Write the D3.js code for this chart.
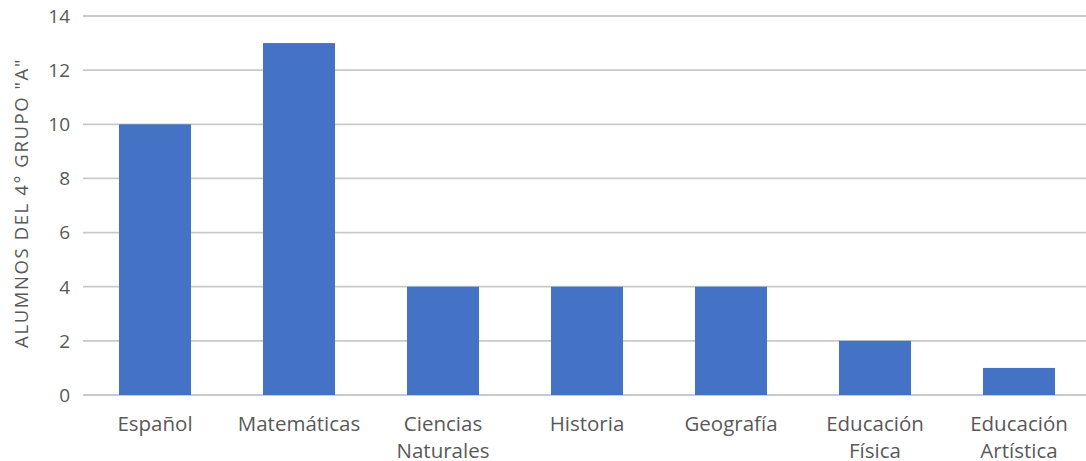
<!DOCTYPE html>
<html><head><meta charset="utf-8">
<script src="https://cdn.jsdelivr.net/npm/d3@7"></script>
<style>body{margin:0;background:#fff}svg{display:block}</style>
</head><body><svg id="c" width="1086" height="461"></svg>
<script>
const categories = [["Español"],["Matemáticas"],["Ciencias","Naturales"],["Historia"],["Geografía"],["Educación","Física"],["Educación","Artística"]];
const values = [10,13,4,4,4,2,1];
const yTicks = [0,2,4,6,8,10,12,14];
const yTitle = "ALUMNOS DEL 4° GRUPO \"A\"";

const svg = d3.select("#c");
const font = "'Open Sans', 'Noto Sans', sans-serif";
const x = d3.scaleBand().domain(d3.range(categories.length)).range([83,1091]).paddingInner(0.5).paddingOuter(0.25);
const y = d3.scaleLinear().domain([0,14]).range([395,16]);

svg.append("g").selectAll("line").data(yTicks).join("line")
  .attr("x1",83).attr("x2",1086)
  .attr("y1",d=>y(d)).attr("y2",d=>y(d))
  .attr("stroke","#c9c9c9").attr("stroke-width",1.8);

svg.append("g").selectAll("rect").data(values).join("rect")
  .attr("x",(d,i)=>x(i)).attr("width",x.bandwidth())
  .attr("y",d=>y(d)).attr("height",d=>y(0)-y(d))
  .attr("fill","#4472C4");

svg.append("g").selectAll("text").data(yTicks).join("text")
  .attr("x",70).attr("y",d=>y(d)).attr("dy","0.36em")
  .attr("text-anchor","end").attr("font-family",font).attr("font-size",19)
  .attr("fill","#595959").text(d=>d);

const xl = svg.append("g").selectAll("text").data(categories).join("text")
  .attr("x",(d,i)=>x(i)+x.bandwidth()/2).attr("y",431)
  .attr("text-anchor","middle").attr("font-family",font).attr("font-size",20.5)
  .attr("fill","#595959");
xl.selectAll("tspan").data(d=>d).join("tspan")
  .attr("x",function(){return this.parentNode.getAttribute("x");})
  .attr("dy",(d,i)=>i?27:0).text(d=>d);

svg.append("text").attr("transform","translate(28,203) rotate(-90)")
  .attr("text-anchor","middle").attr("font-family",font).attr("font-size",18.5)
  .attr("letter-spacing",1.6)
  .attr("fill","#595959").text(yTitle);
</script></body></html>
